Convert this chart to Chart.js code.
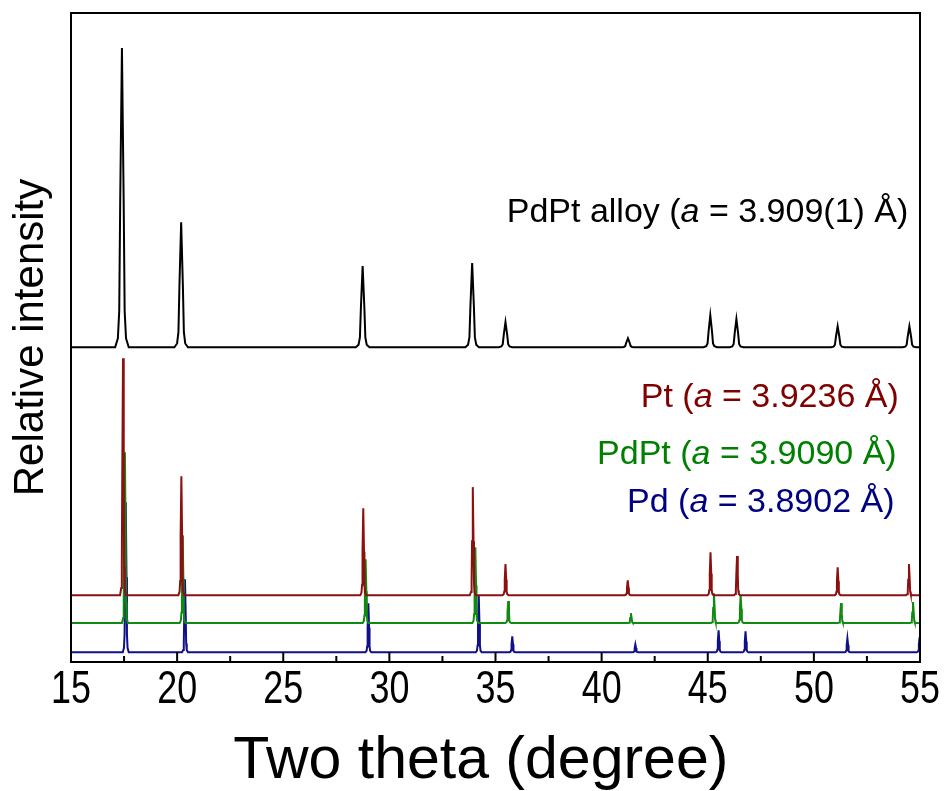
<!DOCTYPE html>
<html>
<head>
<meta charset="utf-8">
<script src="https://cdn.jsdelivr.net/npm/chart.js@4/dist/chart.umd.min.js"></script>
<style>
  html, body { margin: 0; padding: 0; background: #fff; }
</style>
</head>
<body>
<canvas id="xrdChart" width="950" height="791"></canvas>
<script>
// Peak positions (two theta, degree) and relative intensities (strongest = 100)
const alloyPos = [17.40, 20.19, 28.74, 33.90, 35.47, 41.24, 45.12, 46.35, 51.12, 54.50];
const alloyInt = [100, 41.8, 27.1, 28.1, 8.4, 3.0, 10.7, 9.4, 7.0, 7.0];

const ptPos = [17.45, 20.20, 28.77, 33.93, 35.47, 41.23, 45.13, 46.38, 51.12, 54.48];
const ptInt = [100, 50.2, 36.7, 45.6, 13.1, 6.3, 18.1, 16.5, 11.8, 13.1];

const pdptPos = [17.54, 20.26, 28.88, 34.05, 35.60, 41.38, 45.29, 46.55, 51.28, 54.67];
const pdptInt = [100, 51.5, 37.4, 44.4, 12.9, 5.8, 17.5, 16.4, 11.7, 12.3];

const pdPos = [17.58, 20.37, 29.01, 34.21, 35.79, 41.59, 45.51, 46.78, 51.58, 54.98];
const pdInt = [100, 48.7, 32.7, 38.0, 10.7, 5.3, 14.7, 14.0, 9.3, 10.0];

const xTicks = [15, 20, 25, 30, 35, 40, 45, 50, 55];

// stacking of the patterns in the plot (offset, height of the strongest peak, peak width)
const patterns = [
  { label: "PdPt alloy", pos: alloyPos, int: alloyInt, offset: 48.5, scale: 46.1, fwhm: 0.16, color: "#000000" },
  { label: "Pt", pos: ptPos, int: ptInt, offset: 10.3, scale: 36.5, fwhm: 0.07, color: "#8b1010" },
  { label: "PdPt", pos: pdptPos, int: pdptInt, offset: 6.0, scale: 26.3, fwhm: 0.07, color: "#128a12" },
  { label: "Pd", pos: pdPos, int: pdInt, offset: 1.5, scale: 23.1, fwhm: 0.07, color: "#10108b" },
];

// profile drawn around each peak: [offset in fwhm, fraction of peak height]
const peakShape = [[-2, 0], [-1.2, 0.03], [-0.8, 0.12], [-0.5, 0.5], [0, 1], [0.5, 0.5], [0.8, 0.12], [1.2, 0.03], [2, 0]];

function buildLine(p) {
  const pts = [{ x: 15, y: p.offset }];
  p.pos.forEach((c, i) => {
    peakShape.forEach(([dx, f]) => {
      pts.push({ x: c + dx * p.fwhm, y: p.offset + f * p.int[i] / 100 * p.scale });
    });
  });
  pts.push({ x: 55, y: p.offset });
  return pts;
}

// text labels, anchored at their right end
const labels = [
  { x: 54.45, y: 69.3, color: "#000000", parts: ["PdPt alloy (", "a", " = 3.909(1) Å)"] },
  { x: 54.0, y: 40.7, color: "#800000", parts: ["Pt (", "a", " = 3.9236 Å)"] },
  { x: 53.9, y: 31.9, color: "#008000", parts: ["PdPt (", "a", " = 3.9090 Å)"] },
  { x: 53.8, y: 24.5, color: "#000080", parts: ["Pd (", "a", " = 3.8902 Å)"] },
];

const textFont = '"Liberation Sans", Arial, sans-serif';

// box round the plot, inward ticks and narrow tick labels on the x axis
const framePlugin = {
  id: "frame",
  afterDatasetsDraw(chart) {
    const { ctx, chartArea: a, scales: { x } } = chart;
    ctx.save();
    ctx.strokeStyle = "#000";
    ctx.lineWidth = 2;
    ctx.strokeRect(a.left, a.top, a.right - a.left, a.bottom - a.top);
    x.ticks.forEach(t => {
      const px = x.getPixelForValue(t.value);
      const major = xTicks.includes(t.value);
      ctx.beginPath();
      ctx.moveTo(px, a.bottom);
      ctx.lineTo(px, a.bottom - (major ? 10 : 6));
      ctx.stroke();
      if (major) {
        ctx.save();
        ctx.translate(px, a.bottom + 28);
        ctx.scale(0.78, 1);
        ctx.font = "46px " + textFont;
        ctx.fillStyle = "#000";
        ctx.textAlign = "center";
        ctx.textBaseline = "middle";
        ctx.fillText(String(t.value), 0, 0);
        ctx.restore();
      }
    });
    ctx.restore();
  }
};

const labelPlugin = {
  id: "patternLabels",
  afterDatasetsDraw(chart) {
    const { ctx, scales: { x, y } } = chart;
    ctx.save();
    ctx.textBaseline = "middle";
    ctx.textAlign = "left";
    labels.forEach(lb => {
      const fonts = lb.parts.map((s, i) => (i === 1 ? "italic " : "") + "34px " + textFont);
      let w = 0;
      lb.parts.forEach((s, i) => { ctx.font = fonts[i]; w += ctx.measureText(s).width; });
      let px = x.getPixelForValue(lb.x) - w;
      const py = y.getPixelForValue(lb.y);
      ctx.fillStyle = lb.color;
      lb.parts.forEach((s, i) => {
        ctx.font = fonts[i];
        ctx.fillText(s, px, py);
        px += ctx.measureText(s).width;
      });
    });
    ctx.restore();
  }
};

new Chart(document.getElementById("xrdChart"), {
  type: "scatter",
  data: {
    datasets: patterns.map(p => ({
      label: p.label,
      data: buildLine(p),
      showLine: true,
      borderColor: p.color,
      borderWidth: 2,
      pointRadius: 0,
      tension: 0,
    })),
  },
  options: {
    responsive: false,
    animation: false,
    layout: { padding: { left: 0, right: 30, top: 13, bottom: 0 } },
    plugins: { legend: { display: false }, tooltip: { enabled: false } },
    scales: {
      x: {
        type: "linear",
        min: 15,
        max: 55,
        grid: { display: false, drawTicks: false },
        border: { display: false },
        ticks: { display: false, stepSize: 2.5, autoSkip: false },
        title: {
          display: true,
          // trailing en space nudges the centred title a little to the left, as in the figure
          text: "Two theta (degree)\u2002",
          color: "#000",
          padding: { top: 0, bottom: 0 },
          font: { family: textFont, size: 59, lineHeight: 1 },
        },
        afterFit: s => { s.height = 129; },
      },
      y: {
        min: 0,
        max: 100,
        grid: { display: false, drawTicks: false },
        border: { display: false },
        ticks: { display: false },
        title: {
          display: true,
          text: "Relative intensity",
          color: "#000",
          padding: { top: 10, bottom: 0 },
          font: { family: textFont, size: 42, lineHeight: 1 },
        },
        afterFit: s => { s.width = 71; },
      },
    },
  },
  plugins: [framePlugin, labelPlugin],
});
</script>
</body>
</html>
